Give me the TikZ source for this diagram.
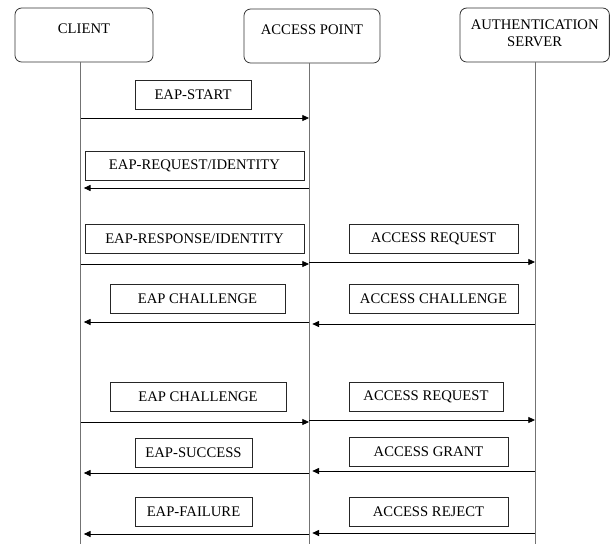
\documentclass[tikz,border=0pt]{standalone}
\usepackage{fontspec}
\setmainfont{Liberation Serif}
\usetikzlibrary{arrows.meta}

\begin{document}
\begin{tikzpicture}[x=0.75pt, y=-0.75pt,
		every node/.style={font=\fontsize{11}{12.75}\selectfont},
		head/.style={draw=black!80, line width=0.6pt, rounded corners=5pt, inner sep=0pt},
		headtext/.style={anchor=north, inner sep=0pt, align=center},
		msgbox/.style={draw=black!85, line width=0.6pt, inner sep=0pt, minimum height=21.75pt},
		life/.style={draw=black!55, line width=0.7pt},
		msg/.style={draw=black, line width=0.6pt, -{Triangle[length=5pt,width=4.5pt]}},
		msgback/.style={msg, shorten >=2.5pt}]
		%%%%% START %%%%%
		
		\useasboundingbox (0,0) rectangle (611,544);
		
		\node[head, minimum width=103.5pt, minimum height=40.5pt, label={[headtext, yshift=-12pt]north:CLIENT}] (client) at (84,35) {};
		\node[head, minimum width=102pt, minimum height=40.5pt, label={[headtext, yshift=-12pt]north:ACCESS POINT}] (ap) at (312,36) {};
		\node[head, minimum width=112pt, minimum height=40.5pt, label={[headtext, yshift=-9pt]north:{AUTHENTICATION\\SERVER}}] (server) at (534.7,35) {};
		
		\coordinate (cl) at (80.5,544);
		\coordinate (apl) at (309,544);
		\coordinate (sl) at (535,544);
		\draw[life] (client.south -| cl) -- (cl);
		\draw[life] (ap.south -| apl) -- (apl);
		\draw[life] (server.south -| sl) -- (sl);
		
		\node[msgbox, minimum width=87pt] (eapstart) at (193,94.5) {EAP-START};
		\draw[msg] (cl |- 0,118) -- (apl |- 0,118);
		
		\node[msgbox, minimum width=164.25pt] (eapreqid) at (194.5,166) {EAP-REQUEST/IDENTITY};
		\draw[msgback] (apl |- 0,188) -- (cl |- 0,188);
		
		\node[msgbox, minimum width=164.25pt] (eaprespid) at (194.5,238.5) {EAP-RESPONSE/IDENTITY};
		\draw[msg] (cl |- 0,264) -- (apl |- 0,264);
		\node[msgbox, minimum width=126.75pt] (accreq) at (433.5,238.5) {ACCESS REQUEST};
		\draw[msg] (apl |- 0,262) -- (sl |- 0,262);
		
		\node[msgbox, minimum width=131.25pt] (eapchal) at (197.5,299) {EAP CHALLENGE};
		\draw[msgback] (apl |- 0,322) -- (cl |- 0,322);
		\node[msgbox, minimum width=126.75pt] (accchal) at (433.5,299) {ACCESS CHALLENGE};
		\draw[msgback] (sl |- 0,324) -- (apl |- 0,324);
		
		\node[msgbox, minimum width=132pt] (eapchalb) at (198,396.5) {EAP CHALLENGE};
		\draw[msg] (cl |- 0,422) -- (apl |- 0,422);
		\node[msgbox, minimum width=115.5pt] (accreqb) at (426,396.5) {ACCESS REQUEST};
		\draw[msg] (apl |- 0,420) -- (sl |- 0,420);
		
		\node[msgbox, minimum width=87.75pt] (eapsucc) at (193.5,453) {EAP-SUCCESS};
		\draw[msgback] (apl |- 0,473) -- (cl |- 0,473);
		\node[msgbox, minimum width=119.25pt] (accgrant) at (428.5,452) {ACCESS GRANT};
		\draw[msgback] (sl |- 0,471) -- (apl |- 0,471);
		
		\node[msgbox, minimum width=87.75pt] (eapfail) at (193.5,512) {EAP-FAILURE};
		\draw[msgback] (apl |- 0,534) -- (cl |- 0,534);
		\node[msgbox, minimum width=119.25pt] (accrej) at (428.5,512) {ACCESS REJECT};
		\draw[msgback] (sl |- 0,533) -- (apl |- 0,533);
		
		%%%%% END %%%%%
	\end{tikzpicture}
\end{document}
